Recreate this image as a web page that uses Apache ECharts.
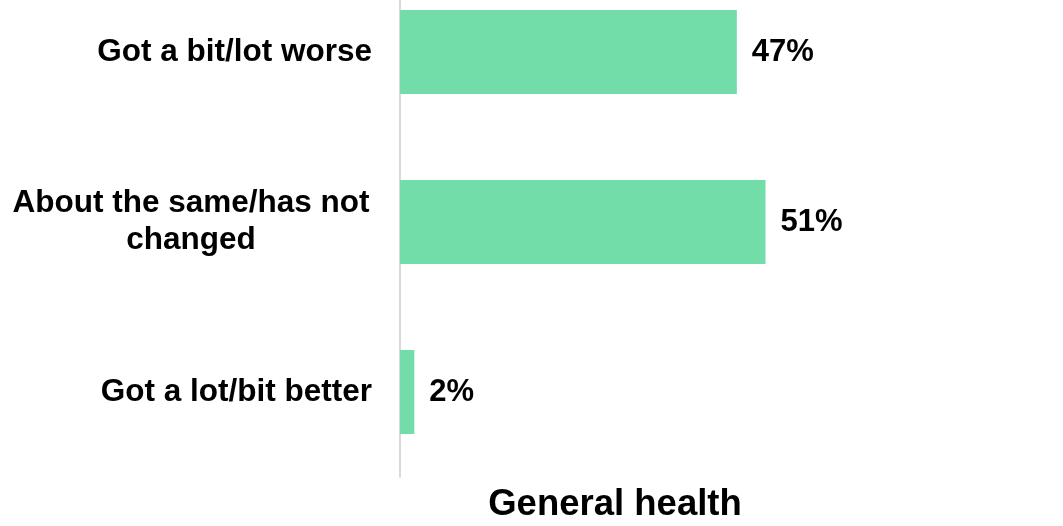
<!DOCTYPE html>
<html>
<head>
<meta charset="utf-8">
<script src="https://cdn.jsdelivr.net/npm/echarts@6/dist/echarts.min.js"></script>
<style>
  html, body { margin: 0; padding: 0; background: #fff; }
  #chart { width: 1063px; height: 526px; }
</style>
</head>
<body>
<div id="chart"></div>
<script>
// categories, top to bottom
var categories = ['Got a bit/lot worse', 'About the same/has not\nchanged', 'Got a lot/bit better'];
var values = [47, 51, 2];
var chartTitle = 'General health';

var chart = echarts.init(document.getElementById('chart'));

var labelFont = '"Liberation Sans", Arial, sans-serif';

var option = {
  animation: false,
  title: {
    text: chartTitle,
    left: 615,
    top: 486,
    padding: 0,
    textAlign: 'center',
    textStyle: {
      fontFamily: labelFont,
      fontWeight: 'bold',
      fontSize: 36.5,
      color: '#000'
    }
  },
  grid: {
    left: 400,
    top: -33,
    height: 510,
    width: 645,
    outerBoundsMode: 'none'
  },
  xAxis: {
    type: 'value',
    min: 0,
    max: 90,
    show: false
  },
  yAxis: {
    type: 'category',
    inverse: true,
    data: categories,
    axisLine: { show: true, lineStyle: { color: '#d9d9d9', width: 2 } },
    axisTick: { show: false },
    axisLabel: {
      margin: 28,
      align: 'right',
      fontFamily: labelFont,
      fontWeight: 'bold',
      fontSize: 31.5,
      color: '#000',
      lineHeight: 37,
      formatter: function (v) {
        if (v.indexOf('\n') >= 0) {
          return v.split('\n').map(function (s) { return '{c|' + s + '}'; }).join('\n');
        }
        return v;
      },
      rich: {
        c: {
          width: 362,
          align: 'center',
          fontFamily: labelFont,
          fontWeight: 'bold',
          fontSize: 31.5,
          color: '#000',
          lineHeight: 37
        }
      }
    }
  },
  series: [{
    type: 'bar',
    data: values,
    barWidth: 84,
    itemStyle: { color: '#72DDA9' },
    label: {
      show: true,
      position: 'right',
      distance: 15,
      formatter: '{c}%',
      fontFamily: labelFont,
      fontWeight: 'bold',
      fontSize: 31,
      color: '#000'
    }
  }]
};

chart.setOption(option);
</script>
</body>
</html>
